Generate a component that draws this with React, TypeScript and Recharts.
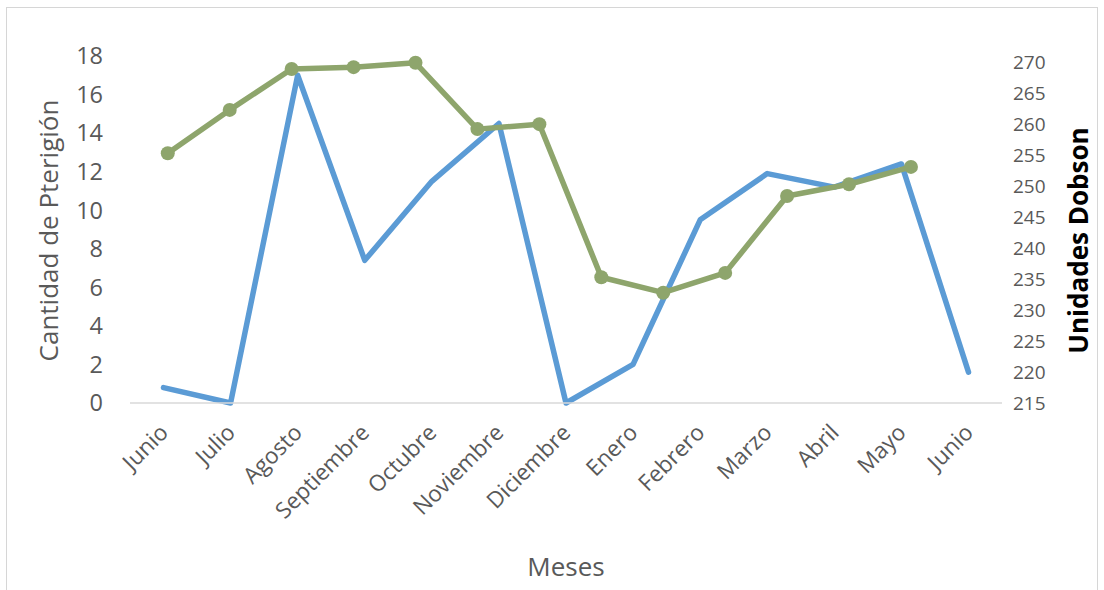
import { Label, Line, LineChart, XAxis, YAxis } from "recharts";

const FONT = "'Open Sans', 'DejaVu Sans', sans-serif";
const TEXT_GRAY = "#595959";
const BLUE = "#5B9BD5";
const GREEN = "#8EA56C";

// Months on the shared category axis
const months = [
    "Junio",
    "Julio",
    "Agosto",
    "Septiembre",
    "Octubre",
    "Noviembre",
    "Diciembre",
    "Enero",
    "Febrero",
    "Marzo",
    "Abril",
    "Mayo",
    "Junio",
];

// Pterygium cases per month (left axis)
const pterigion = [0.8, 0, 17, 7.4, 11.5, 14.5, 0, 2, 9.5, 11.9, 11.2, 12.4, 1.6];

// Ozone column in Dobson units (right axis), plotted on its own x scale
const dobson = [
    255.3, 262.3, 268.9, 269.2, 269.9, 259.2, 260.0, 235.3, 232.8, 236.0, 248.4,
    250.3, 253.1,
];

const leftTicks = [0, 2, 4, 6, 8, 10, 12, 14, 16, 18];
const rightTicks = [215, 220, 225, 230, 235, 240, 245, 250, 255, 260, 265, 270];

const chartData = months.map((m, i) => ({ key: i, mes: m, casos: pterigion[i] }));
const ozoneData = dobson.map((v, i) => ({ idx: i, du: v }));

const MonthTick = ({ x, y, payload }: any) => {
    const tx = x + 6;
    const ty = y + 29;
    return (
        <text
            x={tx}
            y={ty}
            transform={`rotate(-45, ${tx}, ${ty})`}
            textAnchor="end"
            fill={TEXT_GRAY}
            fontSize={22.5}
            fontFamily={FONT}
        >
            {months[payload.value]}
        </text>
    );
};

// vertical axis title, centred on a point measured from the axis box
const SideTitle = ({ viewBox, value, fromRight, dy, fill, bold }: any) => {
    const cx = fromRight ? viewBox.x + viewBox.width - 26 : viewBox.x + 48;
    const cy = viewBox.y + viewBox.height / 2 + dy;
    return (
        <text
            x={cx}
            y={cy}
            transform={`rotate(-90, ${cx}, ${cy})`}
            textAnchor="middle"
            dominantBaseline="central"
            fill={fill}
            fontSize={26}
            fontWeight={bold ? 700 : 400}
            fontFamily={FONT}
        >
            {value}
        </text>
    );
};

export default function App() {
    return (
        <div
            style={{
                position: "fixed",
                left: 0,
                top: 0,
                width: 1104,
                height: 590,
                background: "#fff",
                overflow: "hidden",
            }}
        >
            <div
                style={{
                    position: "absolute",
                    left: 6,
                    top: 7,
                    width: 1092,
                    height: 600,
                    border: "1px solid #d6d6d6",
                    boxSizing: "border-box",
                }}
            />
            <LineChart
                width={1104}
                height={590}
                data={chartData}
                margin={{ top: 56, right: 0, bottom: 0, left: 0 }}
                style={{ position: "absolute", left: 0, top: 0 }}
            >
                <XAxis
                    xAxisId="mes"
                    dataKey="key"
                    type="category"
                    height={187}
                    interval={0}
                    padding={{ left: 33.5, right: 33.5 }}
                    tickLine={false}
                    tickSize={0}
                    axisLine={{ stroke: "#d9d9d9", strokeWidth: 1.5 }}
                    tick={<MonthTick />}
                >
                    <Label
                        value="Meses"
                        position="insideBottom"
                        offset={14}
                        style={{ fontSize: 26, fill: TEXT_GRAY, fontFamily: FONT }}
                    />
                </XAxis>
                <XAxis
                    xAxisId="ozono"
                    dataKey="idx"
                    type="number"
                    domain={[-0.61, 13.47]}
                    allowDataOverflow
                    hide
                />
                <YAxis
                    yAxisId="casos"
                    orientation="left"
                    width={130}
                    domain={[0, 18]}
                    ticks={leftTicks}
                    interval={0}
                    axisLine={false}
                    tickLine={false}
                    tickSize={0}
                    tickMargin={27}
                    tick={{ fontSize: 23.5, fill: TEXT_GRAY, fontFamily: FONT }}
                >
                    <Label
                        value="Cantidad de Pterigión"
                        content={(p: any) => (
                            <SideTitle {...p} value="Cantidad de Pterigión" dy={1} fill={TEXT_GRAY} />
                        )}
                    />
                </YAxis>
                <YAxis
                    yAxisId="du"
                    orientation="right"
                    width={102}
                    domain={[215, 271]}
                    ticks={rightTicks}
                    interval={0}
                    axisLine={false}
                    tickLine={false}
                    tickSize={0}
                    tickMargin={11}
                    tick={{ fontSize: 19, fill: TEXT_GRAY, fontFamily: FONT, textAnchor: "start" }}
                >
                    <Label
                        value="Unidades Dobson"
                        content={(p: any) => (
                            <SideTitle {...p} value="Unidades Dobson" fromRight dy={11} fill="#000" bold />
                        )}
                    />
                </YAxis>
                <Line
                    xAxisId="mes"
                    yAxisId="casos"
                    dataKey="casos"
                    type="linear"
                    stroke={BLUE}
                    strokeWidth={5.5}
                    strokeLinecap="round"
                    strokeLinejoin="round"
                    dot={false}
                    activeDot={false}
                    isAnimationActive={false}
                />
                <Line
                    xAxisId="ozono"
                    yAxisId="du"
                    data={ozoneData}
                    dataKey="du"
                    type="linear"
                    stroke={GREEN}
                    strokeWidth={5.5}
                    strokeLinejoin="round"
                    dot={{ r: 7, fill: GREEN, stroke: "none" }}
                    activeDot={false}
                    isAnimationActive={false}
                />
            </LineChart>
        </div>
    );
}
